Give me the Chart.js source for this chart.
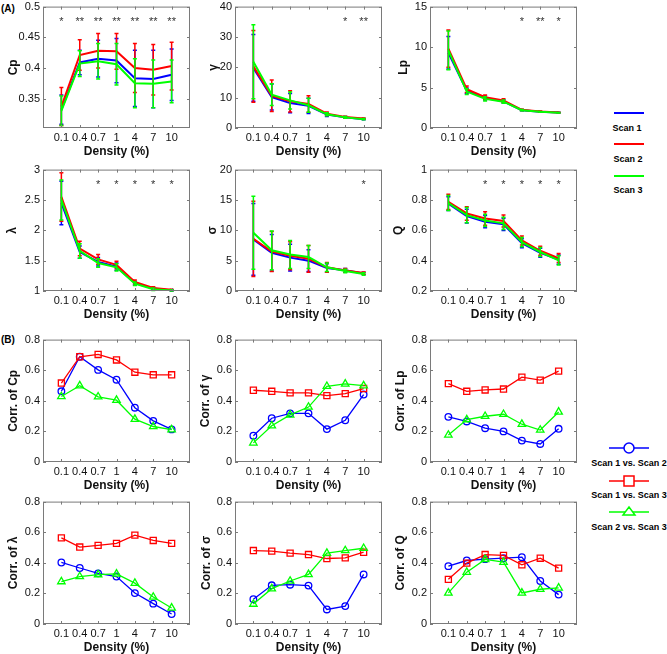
<!DOCTYPE html>
<html>
<head>
<meta charset="utf-8">
<script src="https://cdn.jsdelivr.net/npm/chart.js@4.4.1/dist/chart.umd.min.js"></script>
<style>
  body { margin: 0; background: #fff; }
  #fig { position: relative; width: 667px; height: 654px; overflow: hidden; background: #fff; }
  #fig canvas { position: absolute; }
  #fig svg { position: absolute; left: 0; top: 0; }
  svg text { font-family: 'Liberation Sans', Arial, sans-serif; font-weight: bold; }
</style>
</head>
<body>
<div id="fig">
  <svg width="667" height="654">
    <text x="1" y="12" font-size="10">(A)</text>
    <text x="1" y="343" font-size="10">(B)</text>

    <!-- legend (A) -->
    <line x1="614" y1="113" x2="644" y2="113" stroke="#0000ff" stroke-width="2"/>
    <text x="627" y="131" font-size="9" text-anchor="middle">Scan 1</text>
    <line x1="614" y1="144" x2="644" y2="144" stroke="#ff0000" stroke-width="2"/>
    <text x="628" y="162" font-size="9" text-anchor="middle">Scan 2</text>
    <line x1="614" y1="176" x2="644" y2="176" stroke="#00ff00" stroke-width="2"/>
    <text x="628" y="193" font-size="9" text-anchor="middle">Scan 3</text>

    <!-- legend (B) -->
    <line x1="609" y1="448" x2="649" y2="448" stroke="#0000ff" stroke-width="1.5"/>
    <circle cx="629" cy="448" r="5" fill="#fff" stroke="#0000ff" stroke-width="1.5"/>
    <text x="629" y="466" font-size="9" text-anchor="middle">Scan 1 vs. Scan 2</text>
    <line x1="609" y1="481" x2="649" y2="481" stroke="#ff0000" stroke-width="1.5"/>
    <rect x="624" y="476" width="10" height="10" fill="#fff" stroke="#ff0000" stroke-width="1.5"/>
    <text x="629" y="498" font-size="9" text-anchor="middle">Scan 1 vs. Scan 3</text>
    <line x1="609" y1="512" x2="649" y2="512" stroke="#00ff00" stroke-width="1.5"/>
    <polygon points="629,507 635,515 623,515" fill="#fff" stroke="#00ff00" stroke-width="1.5"/>
    <text x="629" y="530" font-size="9" text-anchor="middle">Scan 2 vs. Scan 3</text>
  </svg>
</div>
<script>
// densité (%) sur l'axe x
const densityLabels = ['0.1', '0.4', '0.7', '1', '4', '7', '10'];

// (A) moyennes par scan + écart-type pour les barres d'erreur
const cpScan1 = [0.332, 0.409, 0.415, 0.412, 0.383, 0.382, 0.389];
const cpScan2 = [0.337, 0.421, 0.428, 0.427, 0.400, 0.397, 0.403];
const cpScan3 = [0.330, 0.407, 0.411, 0.406, 0.375, 0.374, 0.378];
const cpErr1 = [0.024, 0.020, 0.030, 0.036, 0.046, 0.047, 0.042];
const cpErr2 = [0.031, 0.025, 0.028, 0.029, 0.040, 0.041, 0.039];
const cpErr3 = [0.024, 0.021, 0.029, 0.034, 0.040, 0.039, 0.035];
const cpStars = ['*', '**', '**', '**', '**', '**', '**'];

const gammaScan1 = [19.8, 10.2, 8.2, 7.3, 4.4, 3.5, 2.9];
const gammaScan2 = [20.3, 10.6, 8.8, 7.9, 4.7, 3.6, 3.1];
const gammaScan3 = [21.8, 11.0, 9.1, 7.5, 4.5, 3.5, 2.9];
const gammaErr1 = [11.0, 4.3, 3.2, 2.5, 0.6, 0.3, 0.2];
const gammaErr2 = [11.8, 5.2, 3.5, 2.7, 0.6, 0.3, 0.2];
const gammaErr3 = [12.2, 3.6, 2.8, 2.3, 0.5, 0.3, 0.2];
const gammaStars = ['', '', '', '', '', '*', '**'];

const lpScan1 = [9.3, 4.6, 3.7, 3.3, 2.2, 2.0, 1.9];
const lpScan2 = [9.8, 4.8, 3.8, 3.4, 2.25, 2.05, 1.92];
const lpScan3 = [9.6, 4.5, 3.6, 3.25, 2.2, 2.0, 1.88];
const lpErr1 = [2.0, 0.35, 0.25, 0.2, 0.08, 0.05, 0.04];
const lpErr2 = [2.3, 0.4, 0.28, 0.22, 0.08, 0.05, 0.04];
const lpErr3 = [2.4, 0.35, 0.25, 0.2, 0.08, 0.05, 0.04];
const lpStars = ['', '', '', '', '*', '**', '*'];

const lambdaScan1 = [2.45, 1.64, 1.48, 1.40, 1.13, 1.04, 1.01];
const lambdaScan2 = [2.55, 1.70, 1.52, 1.43, 1.15, 1.05, 1.02];
const lambdaScan3 = [2.50, 1.66, 1.46, 1.39, 1.12, 1.03, 1.01];
const lambdaErr1 = [0.36, 0.10, 0.07, 0.06, 0.03, 0.02, 0.01];
const lambdaErr2 = [0.40, 0.12, 0.08, 0.06, 0.03, 0.02, 0.01];
const lambdaErr3 = [0.33, 0.12, 0.07, 0.06, 0.03, 0.02, 0.01];
const lambdaStars = ['', '', '*', '*', '*', '*', '*'];

const sigmaScan1 = [8.5, 6.3, 5.5, 5.0, 3.8, 3.4, 2.9];
const sigmaScan2 = [8.6, 6.5, 5.8, 5.3, 3.9, 3.4, 2.95];
const sigmaScan3 = [9.6, 6.7, 6.0, 5.6, 3.9, 3.3, 2.8];
const sigmaErr1 = [5.9, 3.0, 2.2, 1.8, 0.7, 0.3, 0.2];
const sigmaErr2 = [6.2, 3.3, 2.3, 2.2, 0.8, 0.3, 0.2];
const sigmaErr3 = [6.0, 3.2, 2.3, 1.9, 0.7, 0.3, 0.2];
const sigmaStars = ['', '', '', '', '', '', '*'];

const qScan1 = [0.776, 0.693, 0.657, 0.639, 0.515, 0.452, 0.407];
const qScan2 = [0.787, 0.711, 0.678, 0.661, 0.533, 0.465, 0.417];
const qScan3 = [0.780, 0.700, 0.665, 0.646, 0.522, 0.457, 0.402];
const qErr1 = [0.045, 0.045, 0.040, 0.040, 0.030, 0.030, 0.030];
const qErr2 = [0.050, 0.045, 0.045, 0.040, 0.030, 0.030, 0.030];
const qErr3 = [0.050, 0.050, 0.040, 0.040, 0.030, 0.030, 0.030];
const qStars = ['', '', '*', '*', '*', '*', '*'];

// (B) corrélations entre scans
const corrCp12 = [0.462, 0.688, 0.602, 0.538, 0.355, 0.269, 0.213];
const corrCp13 = [0.516, 0.688, 0.703, 0.667, 0.587, 0.570, 0.570];
const corrCp23 = [0.428, 0.499, 0.426, 0.404, 0.280, 0.232, 0.211];

const corrGamma12 = [0.172, 0.286, 0.318, 0.318, 0.215, 0.273, 0.441];
const corrGamma13 = [0.469, 0.462, 0.452, 0.452, 0.434, 0.447, 0.480];
const corrGamma23 = [0.125, 0.237, 0.308, 0.359, 0.495, 0.510, 0.499];

const corrLp12 = [0.295, 0.265, 0.221, 0.200, 0.140, 0.118, 0.217];
const corrLp13 = [0.512, 0.462, 0.471, 0.477, 0.555, 0.535, 0.594];
const corrLp23 = [0.176, 0.277, 0.299, 0.312, 0.247, 0.209, 0.327];

const corrLambda12 = [0.402, 0.366, 0.331, 0.310, 0.202, 0.133, 0.065];
const corrLambda13 = [0.563, 0.503, 0.514, 0.527, 0.581, 0.546, 0.527];
const corrLambda23 = [0.277, 0.310, 0.323, 0.327, 0.267, 0.176, 0.105];

const corrSigma12 = [0.162, 0.253, 0.257, 0.251, 0.095, 0.117, 0.324];
const corrSigma13 = [0.480, 0.476, 0.463, 0.454, 0.428, 0.432, 0.469];
const corrSigma23 = [0.130, 0.231, 0.281, 0.324, 0.463, 0.480, 0.495];

const corrQ12 = [0.378, 0.415, 0.424, 0.430, 0.437, 0.281, 0.192];
const corrQ13 = [0.292, 0.398, 0.454, 0.448, 0.387, 0.430, 0.365];
const corrQ23 = [0.203, 0.339, 0.422, 0.404, 0.203, 0.227, 0.236];

const FONT = "'Liberation Sans', Arial, sans-serif";
Chart.defaults.font.family = FONT;
Chart.defaults.color = '#111';
Chart.defaults.animation = false;

const BLUE = '#0000ff', RED = '#ff0000', GREEN = '#00ff00';
const COLS = [43, 235, 430];          // bord gauche des axes
const ROWS = [5, 168, 338, 500];      // bord haut des axes
const PH = [123, 123, 124, 124];
const PW = 147, XH = 31, PT = 8, PR = 6;

function xy(arr) {
    return arr.map((v, i) => ({ x: i + 1, y: v }));
}

// boîte style MATLAB + barres d'erreur + étoiles
function boxPlugin(stars) {
    return {
        id: 'matlabBox',
        afterDatasetDraw(chart, args) {
            const ds = chart.data.datasets[args.index];
            if (!ds.err) return;
            const xs = chart.scales.x, ys = chart.scales.y, ctx = chart.ctx;
            ctx.save();
            ctx.strokeStyle = ds.borderColor;
            ctx.lineWidth = 1.5;
            ds.data.forEach((p, i) => {
                const px = xs.getPixelForValue(p.x);
                const y0 = ys.getPixelForValue(p.y - ds.err[i]);
                const y1 = ys.getPixelForValue(p.y + ds.err[i]);
                ctx.beginPath();
                ctx.moveTo(px, y0); ctx.lineTo(px, y1);
                ctx.moveTo(px - 2, y0); ctx.lineTo(px + 2, y0);
                ctx.moveTo(px - 2, y1); ctx.lineTo(px + 2, y1);
                ctx.stroke();
            });
            ctx.restore();
        },
        afterDraw(chart) {
            const a = chart.chartArea, ctx = chart.ctx;
            const xs = chart.scales.x, ys = chart.scales.y;
            ctx.save();
            ctx.strokeStyle = '#7a7a7a';
            ctx.lineWidth = 1;
            ctx.strokeRect(a.left + 0.5, a.top + 0.5, a.right - a.left - 1, a.bottom - a.top - 1);
            ctx.beginPath();
            ys.ticks.forEach(t => {
                const py = Math.round(ys.getPixelForValue(t.value)) + 0.5;
                ctx.moveTo(a.left, py); ctx.lineTo(a.left + 3, py);
                ctx.moveTo(a.right, py); ctx.lineTo(a.right - 3, py);
            });
            xs.ticks.forEach(t => {
                const px = Math.round(xs.getPixelForValue(t.value)) + 0.5;
                ctx.moveTo(px, a.bottom); ctx.lineTo(px, a.bottom - 3);
                ctx.moveTo(px, a.top); ctx.lineTo(px, a.top + 3);
            });
            ctx.stroke();
            if (stars) {
                ctx.fillStyle = '#333';
                ctx.font = '11px ' + FONT;
                ctx.textAlign = 'center';
                ctx.textBaseline = 'alphabetic';
                stars.forEach((s, i) => {
                    if (s) ctx.fillText(s, xs.getPixelForValue(i + 1), a.top + 18);
                });
            }
            ctx.restore();
        }
    };
}

function scanSets(s1, s2, s3, e1, e2, e3) {
    return [
        { label: 'Scan 1', data: xy(s1), err: e1, borderColor: BLUE, order: 3 },
        { label: 'Scan 2', data: xy(s2), err: e2, borderColor: RED, order: 2 },
        { label: 'Scan 3', data: xy(s3), err: e3, borderColor: GREEN, order: 1 }
    ].map(d => Object.assign(d, { borderWidth: 2, pointRadius: 0, fill: false, tension: 0 }));
}

function corrSets(c12, c13, c23) {
    return [
        { label: 'Scan 1 vs. Scan 2', data: xy(c12), borderColor: BLUE, pointStyle: 'circle', pointRadius: 3.3, order: 3 },
        { label: 'Scan 1 vs. Scan 3', data: xy(c13), borderColor: RED, pointStyle: 'rect', pointRadius: 4.3, order: 2 },
        { label: 'Scan 2 vs. Scan 3', data: xy(c23), borderColor: GREEN, pointStyle: 'triangle', pointRadius: 4.3, order: 1 }
    ].map(d => Object.assign(d, {
        borderWidth: 1.3, pointBorderWidth: 1.3, pointBorderColor: d.borderColor,
        pointBackgroundColor: 'rgba(255,255,255,0)', fill: false, tension: 0
    }));
}

function makePanel(row, col, yw, yTitle, yMin, yMax, yStep, datasets, stars) {
    const L = COLS[col], T = ROWS[row], H = PH[row];
    const cv = document.createElement('canvas');
    cv.width = yw + PW + PR;
    cv.height = PT + H + XH;
    cv.style.left = (L - yw) + 'px';
    cv.style.top = (T - PT) + 'px';
    document.getElementById('fig').appendChild(cv);

    new Chart(cv, {
        type: 'line',
        data: { datasets: datasets },
        plugins: [boxPlugin(stars)],
        options: {
            responsive: false,
            devicePixelRatio: 1,
            layout: { padding: { top: PT, right: PR, left: 0, bottom: 0 } },
            plugins: { legend: { display: false }, tooltip: { enabled: false } },
            scales: {
                x: {
                    type: 'linear', min: 0, max: 8,
                    afterBuildTicks: s => { s.ticks = densityLabels.map((_, i) => ({ value: i + 1 })); },
                    afterFit: s => { s.height = XH; },
                    ticks: {
                        autoSkip: false, maxRotation: 0, padding: 3, color: '#111',
                        font: { size: 11 },
                        callback: (v, i) => densityLabels[i]
                    },
                    grid: { display: false, drawTicks: false },
                    border: { display: false },
                    title: { display: true, text: 'Density (%)', color: '#111',
                             font: { size: 12, weight: 'bold' }, padding: 0 }
                },
                y: {
                    min: yMin, max: yMax,
                    afterFit: s => { s.width = yw; },
                    ticks: {
                        stepSize: yStep, includeBounds: false, padding: 3, color: '#111',
                        font: { size: 11 },
                        callback: v => String(+v.toFixed(3))
                    },
                    grid: { display: false, drawTicks: false },
                    border: { display: false },
                    title: { display: true, text: yTitle, color: '#111',
                             font: { size: 12, weight: 'bold' }, padding: 0 }
                }
            }
        }
    });
}

// (A)
makePanel(0, 0, 37, 'Cp', 0.302, 0.5, 0.05,
    scanSets(cpScan1, cpScan2, cpScan3, cpErr1, cpErr2, cpErr3), cpStars);
makePanel(0, 1, 29, 'γ', 0, 40, 10,
    scanSets(gammaScan1, gammaScan2, gammaScan3, gammaErr1, gammaErr2, gammaErr3), gammaStars);
makePanel(0, 2, 34, 'Lp', 0, 15, 5,
    scanSets(lpScan1, lpScan2, lpScan3, lpErr1, lpErr2, lpErr3), lpStars);
makePanel(1, 0, 38, 'λ', 1, 3, 0.5,
    scanSets(lambdaScan1, lambdaScan2, lambdaScan3, lambdaErr1, lambdaErr2, lambdaErr3), lambdaStars);
makePanel(1, 1, 30, 'σ', 0, 20, 5,
    scanSets(sigmaScan1, sigmaScan2, sigmaScan3, sigmaErr1, sigmaErr2, sigmaErr3), sigmaStars);
makePanel(1, 2, 39, 'Q', 0.2, 1, 0.2,
    scanSets(qScan1, qScan2, qScan3, qErr1, qErr2, qErr3), qStars);

// (B)
makePanel(2, 0, 37, 'Corr. of Cp', 0, 0.8, 0.2, corrSets(corrCp12, corrCp13, corrCp23));
makePanel(2, 1, 37, 'Corr. of γ', 0, 0.8, 0.2, corrSets(corrGamma12, corrGamma13, corrGamma23));
makePanel(2, 2, 37, 'Corr. of Lp', 0, 0.8, 0.2, corrSets(corrLp12, corrLp13, corrLp23));
makePanel(3, 0, 37, 'Corr. of λ', 0, 0.8, 0.2, corrSets(corrLambda12, corrLambda13, corrLambda23));
makePanel(3, 1, 36, 'Corr. of σ', 0, 0.8, 0.2, corrSets(corrSigma12, corrSigma13, corrSigma23));
makePanel(3, 2, 37, 'Corr. of Q', 0, 0.8, 0.2, corrSets(corrQ12, corrQ13, corrQ23));
</script>
</body>
</html>
